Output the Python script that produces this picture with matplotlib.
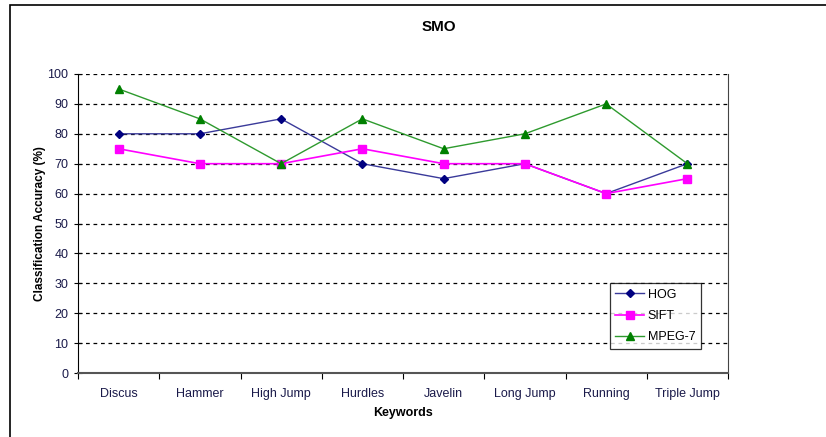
import matplotlib
matplotlib.use("Agg")
from matplotlib import pyplot as plt
from matplotlib.patches import Rectangle
import numpy as np

plt.rcParams['font.family'] = ['Liberation Sans', 'DejaVu Sans']

keywords = ['Discus', 'Hammer', 'High Jump', 'Hurdles', 'Javelin',
            'Long Jump', 'Running', 'Triple Jump']
hog = [80, 80, 85, 70, 65, 70, 60, 70]
sift = [75, 70, 70, 75, 70, 70, 60, 65]
mpeg7 = [95, 85, 70, 85, 75, 80, 90, 70]

fig = plt.figure(figsize=(8.26, 4.37), dpi=100)
# outer chart frame (cropped on right/bottom)
fig.patches.append(Rectangle((10 / 826, -0.1), 1.2, 1.1 - 5 / 437, transform=fig.transFigure,
                             fill=False, edgecolor='black', linewidth=1.2))
ax = fig.add_axes([78 / 826, 1 - 373 / 437, 650 / 826, 299 / 437])

x = np.arange(len(keywords)) + 0.5
ax.plot(x, hog, color='#3a3a9a', lw=1, marker='D', ms=4.5, mfc='#000080', mec='#000080', label='HOG')
ax.plot(x, sift, color='#ff00ff', lw=1.2, marker='s', ms=5.5, mfc='#ff00ff', mec='#ff00ff', label='SIFT')
ax.plot(x, mpeg7, color='#2e9a2e', lw=1, marker='^', ms=6, mfc='#008000', mec='#008000', label='MPEG-7')

ax.set_xlim(0, len(keywords))
ax.set_ylim(0, 100)
ax.set_yticks(np.arange(0, 101, 10))
for yv in np.arange(10, 101, 10):
    ax.axhline(yv, color='black', ls=(0, (3, 3)), lw=0.9, zorder=0)

ax.set_xticks(np.arange(0, len(keywords) + 1))
ax.set_xticklabels([])
ax.set_xticks(x, minor=True)
ax.set_xticklabels(keywords, minor=True)
ax.tick_params(axis='x', which='major', direction='out', length=4, color='black')
ax.tick_params(axis='x', which='minor', length=0, pad=11, labelsize=9, labelcolor='#1a1a4a')
ax.tick_params(axis='y', direction='inout', length=6, labelsize=9, pad=4, labelcolor='#1a1a4a')

ax.spines['top'].set_visible(False)
ax.spines['right'].set_color('#444444')
ax.spines['bottom'].set_color('#555555')
ax.spines['bottom'].set_linewidth(1.5)

ax.set_xlabel('Keywords', fontsize=9, fontweight='bold', labelpad=5)
ax.set_ylabel('Classification Accuracy (%)', fontsize=8.5, fontweight='bold', labelpad=1)
fig.text(439 / 826, 1 - 27 / 437, 'SMO', ha='center', va='center', fontsize=11, fontweight='bold')

leg = ax.legend(loc='lower left', bbox_to_anchor=(0.818, 0.08),
                fontsize=9, frameon=True, fancybox=False, edgecolor='black',
                handlelength=2.3, borderpad=0.45, labelspacing=0.75, handletextpad=0.3,
                borderaxespad=0)
leg.get_frame().set_linewidth(0.9)

fig.savefig('out.png', dpi=100)
